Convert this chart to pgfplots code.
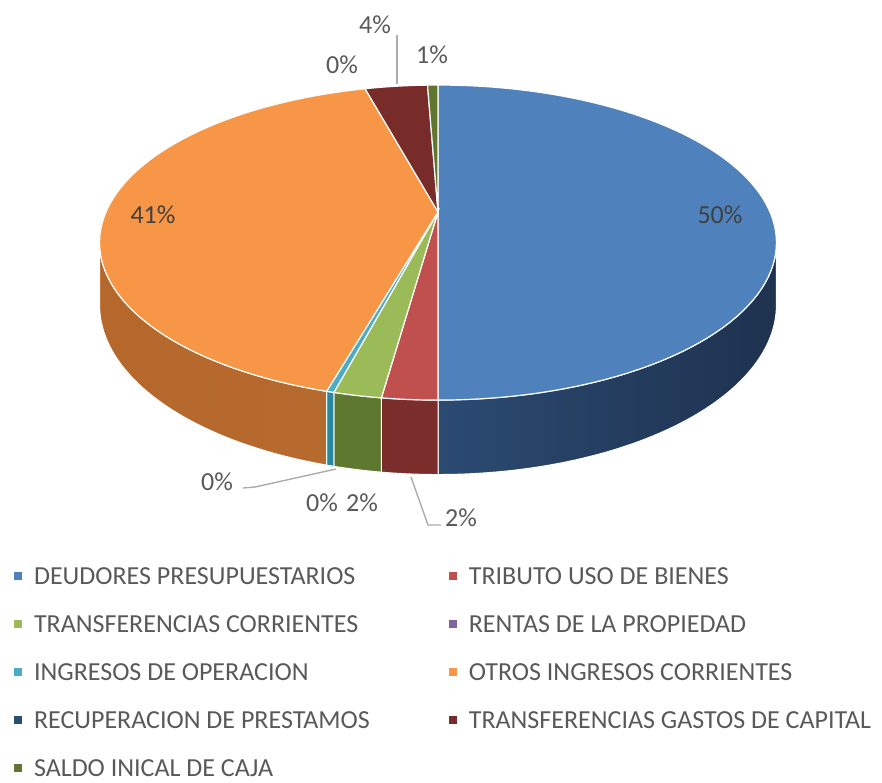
\documentclass[border=0pt]{standalone}
\usepackage{pgfplots}
\pgfplotsset{compat=1.18}
\usepackage{fontspec}
\setmainfont{Carlito}
\definecolor{cBlue}{HTML}{4F81BD}
\definecolor{cRed}{HTML}{C0504D}
\definecolor{cGreen}{HTML}{9BBB59}
\definecolor{cPurple}{HTML}{8064A2}
\definecolor{cCyan}{HTML}{4BACC6}
\definecolor{cOrange}{HTML}{F79646}
\definecolor{cNavy}{HTML}{2C4D75}
\definecolor{cDRed}{HTML}{772C2A}
\definecolor{cOlive}{HTML}{5F7530}
\definecolor{sBlueL}{HTML}{2B4A72}
\definecolor{sBlueR}{HTML}{1E324F}
\definecolor{sRed}{HTML}{7A2D2B}
\definecolor{sGreen}{HTML}{5E7830}
\definecolor{sCyan}{HTML}{2A89A0}
\definecolor{sOrangeL}{HTML}{B6682C}
\definecolor{sOrangeM}{HTML}{CC7C3A}
\definecolor{sOrangeR}{HTML}{B76A2D}
\definecolor{lbl}{HTML}{595959}
\definecolor{lblin}{HTML}{404040}
% shares (percent), clockwise from 12 o'clock
\def\vDeu{50}   % DEUDORES PRESUPUESTARIOS
\def\vTri{2.2}  % TRIBUTO USO DE BIENES
\def\vTra{1.9}  % TRANSFERENCIAS CORRIENTES
\def\vRen{0}    % RENTAS DE LA PROPIEDAD
\def\vIng{0.3}  % INGRESOS DE OPERACION
\def\vOtr{41.4} % OTROS INGRESOS CORRIENTES
\def\vRec{0}    % RECUPERACION DE PRESTAMOS
\def\vTgc{3.6}  % TRANSFERENCIAS GASTOS DE CAPITAL
\def\vSal{0.6}  % SALDO INICAL DE CAJA
\pgfmathsetmacro\aA{0}
\pgfmathsetmacro\aB{\aA+3.6*\vDeu}
\pgfmathsetmacro\aC{\aB+3.6*\vTri}
\pgfmathsetmacro\aD{\aC+3.6*\vTra}
\pgfmathsetmacro\aE{\aD+3.6*\vRen}
\pgfmathsetmacro\aF{\aE+3.6*\vIng}
\pgfmathsetmacro\aG{\aF+3.6*\vOtr}
\pgfmathsetmacro\aH{\aG+3.6*\vRec}
\pgfmathsetmacro\aI{\aH+3.6*\vTgc}
\pgfmathsetmacro\aJ{\aI+3.6*\vSal}
\newcommand\topslice[3]{%
  \addplot[forget plot, fill=#1, draw=white, line width=0.6pt, domain=#2:#3, samples=90, variable=\t]
    ({px(\t)},{py(\t)}) -- (axis cs:438,212) -- cycle;}
\newcommand\sideslice[3]{%
  \pgfmathsetmacro\sOne{max(#2,101.2)}%
  \pgfmathsetmacro\sTwo{min(#3,258.8)}%
  \addplot[forget plot, #1, draw=white, line width=0.5pt, samples at={0,1,...,60,100,101,...,160}, variable=\t]
    ({px(sd(\t))},{py(sd(\t))+(\t>80)*dz(sd(\t))}) -- cycle;}
\newcommand\legsq[1]{\addlegendimage{legend image code/.code={\fill[#1] (0pt,-1.8pt) rectangle (3.6pt,1.8pt);}}}
\begin{document}
\begin{tikzpicture}
\begin{axis}[
  width=441pt, height=391pt, scale only axis,
  xmin=0, xmax=882, ymin=0, ymax=782, y dir=reverse,
  hide axis, clip=false,
  declare function={
    w(\a)=1+0.194*cos(\a);
    px(\a)=438+332*sin(\a)/w(\a);
    py(\a)=212-151.6*cos(\a)/w(\a);
    dz(\a)=60/w(\a);
    sd(\t)=(\t<80) ? (\sOne+(\sTwo-\sOne)*\t/60) : (\sTwo-(\sTwo-\sOne)*(\t-100)/60);
  },
  legend columns=2,
  legend cell align=left,
  legend style={at={(0.0159,0.2749)}, anchor=north west, draw=none, fill=none,
    inner sep=0pt, outer sep=0pt, font=\fontsize{13}{15}\selectfont, text=lbl,
    row sep=15.5pt, nodes={inner sep=0pt, text height=8.5pt, text depth=0pt},
    /tikz/every odd column/.append style={column sep=6pt},
    /tikz/column 2/.style={column sep=39.5pt}},
]
\path (axis cs:0,0) (axis cs:882,782);
% side walls (front half)
\sideslice{left color=sBlueL, right color=sBlueR}{\aA}{\aB}
\sideslice{fill=sRed}{\aB}{\aC}
\sideslice{fill=sGreen}{\aC}{\aD}
\sideslice{fill=sCyan}{\aE}{\aF}
\sideslice{left color=sOrangeL, middle color=sOrangeM, right color=sOrangeR}{\aF}{\aG}
% top faces
\topslice{cBlue}{\aA}{\aB}
\topslice{cRed}{\aB}{\aC}
\topslice{cGreen}{\aC}{\aD}
\topslice{cCyan}{\aE}{\aF}
\topslice{cOrange}{\aF}{\aG}
\topslice{cDRed}{\aH}{\aI}
\topslice{cOlive}{\aI}{\aJ}
% data labels
\draw[lbl!50, line width=0.7pt] (axis cs:397,35) -- (axis cs:397,84);
\draw[lbl!50, line width=0.7pt] (axis cs:243,488) -- (axis cs:255,487) -- (axis cs:336,469);
\draw[lbl!50, line width=0.7pt] (axis cs:411,477) -- (axis cs:428,525) -- (axis cs:441,525);
\begin{scope}[every node/.style={font=\fontsize{13}{15}\selectfont, text=lbl, inner sep=0pt}]
\node at (axis cs:720,215) {\textcolor{lblin}{50\%}};
\node at (axis cs:153,215) {\textcolor{lblin}{41\%}};
\node at (axis cs:375,25) {4\%};
\node at (axis cs:432,55) {1\%};
\node at (axis cs:342,65) {0\%};
\node at (axis cs:217,482) {0\%};
\node at (axis cs:322,503) {0\%};
\node at (axis cs:362,503) {2\%};
\node at (axis cs:461,518) {2\%};
\end{scope}
% legend
\legsq{cBlue}\addlegendentry{DEUDORES PRESUPUESTARIOS}
\legsq{cRed}\addlegendentry{TRIBUTO USO DE BIENES}
\legsq{cGreen}\addlegendentry{TRANSFERENCIAS CORRIENTES}
\legsq{cPurple}\addlegendentry{RENTAS DE LA PROPIEDAD}
\legsq{cCyan}\addlegendentry{INGRESOS DE OPERACION}
\legsq{cOrange}\addlegendentry{OTROS INGRESOS CORRIENTES}
\legsq{cNavy}\addlegendentry{RECUPERACION DE PRESTAMOS}
\legsq{cDRed}\addlegendentry{TRANSFERENCIAS GASTOS DE CAPITAL}
\legsq{cOlive}\addlegendentry{SALDO INICAL DE CAJA}
\end{axis}
\end{tikzpicture}
\end{document}
